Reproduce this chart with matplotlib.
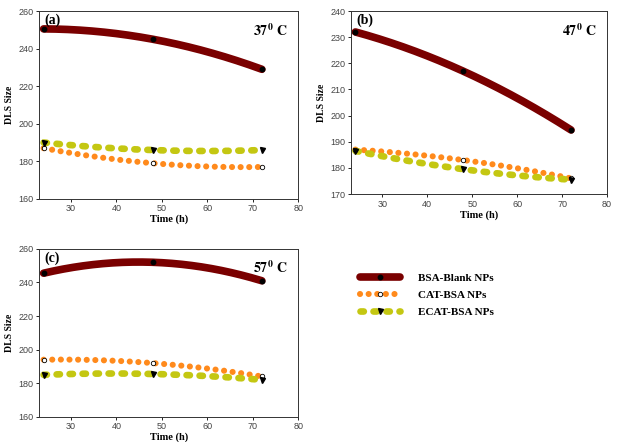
import numpy as np
import matplotlib
matplotlib.use("Agg")
import matplotlib.pyplot as plt
from matplotlib.lines import Line2D

plt.rcParams['mathtext.fontset'] = 'stix'

# --- data ---
time_h = [24, 48, 72]

bsa_a = [250.5, 245.0, 229.0]
cat_a = [187.0, 179.0, 177.0]
ecat_a = [190.0, 186.0, 186.0]

bsa_b = [232.0, 217.0, 194.5]
cat_b = [187.0, 183.0, 176.0]
ecat_b = [186.5, 179.5, 175.5]

bsa_c = [245.5, 252.0, 241.0]
cat_c = [194.0, 192.0, 184.0]
ecat_c = [185.0, 185.5, 182.0]

panel_labels = ['(a)', '(b)', '(c)']
temps = ['37', '47', '57']
series_names = ['BSA-Blank NPs', 'CAT-BSA NPs', 'ECAT-BSA NPs']

# --- styles ---
RED = '#7a0000'
ORANGE = '#ff8a1c'
YGREEN = '#c4c712'
SERIF = 'Liberation Serif'
SANS = 'Liberation Sans'

styles = [
    dict(color=RED, lw=5.5, ls='-', solid_capstyle='round'),
    dict(color=ORANGE, lw=4.4, ls=(0, (0.01, 1.4)), dash_capstyle='round'),
    dict(color=YGREEN, lw=4.8, ls=(0, (0.5, 1.45)), dash_capstyle='round'),
]
markers = [
    dict(marker='o', ms=3.2, mfc='black', mec='black'),
    dict(marker='o', ms=3.2, mfc='white', mec='black', mew=0.6),
    dict(marker='v', ms=3.6, mfc='black', mec='black'),
]

fig = plt.figure(figsize=(6.2, 4.42), dpi=100)
ax_a = fig.add_axes([0.063, 0.550, 0.418, 0.425])
ax_b = fig.add_axes([0.566, 0.561, 0.413, 0.414])
ax_c = fig.add_axes([0.063, 0.057, 0.418, 0.380])

panels = [
    (ax_a, [bsa_a, cat_a, ecat_a], (160, 260), 20),
    (ax_b, [bsa_b, cat_b, ecat_b], (170, 240), 10),
    (ax_c, [bsa_c, cat_c, ecat_c], (160, 260), 20),
]

xs = np.linspace(time_h[0], time_h[-1], 200)
for i, (ax, data, ylim, ystep) in enumerate(panels):
    for vals, st, mk in zip(data, styles, markers):
        coef = np.polyfit(time_h, vals, 2)
        ax.plot(xs, np.polyval(coef, xs), zorder=2, **st)
        ax.plot(time_h, vals, ls='none', zorder=3, **mk)
    ax.set_xlim(23, 80)
    ax.set_ylim(*ylim)
    ax.set_xticks([30, 40, 50, 60, 70, 80])
    ax.set_yticks(np.arange(ylim[0], ylim[1] + 1, ystep))
    ax.tick_params(labelsize=6.5, labelcolor='#444444', length=2, width=0.6,
                   pad=2)
    for lab in ax.get_xticklabels() + ax.get_yticklabels():
        lab.set_family(SANS)
    for sp in ax.spines.values():
        sp.set_linewidth(0.7)
        sp.set_color('#333333')
    ax.set_xlabel('Time (h)', family=SERIF, weight='bold', fontsize=7.5,
                  labelpad=1)
    ax.set_ylabel('DLS Size', family=SERIF, weight='bold', fontsize=7,
                  labelpad=3)
    ax.text(0.02, 0.985, panel_labels[i], transform=ax.transAxes,
            family=SERIF, weight='bold', fontsize=10, va='top', ha='left')
    ax.text(0.96, 0.94, r'$\mathbf{%s^{0}\ C}$' % temps[i],
            transform=ax.transAxes, fontsize=10, va='top', ha='right')

handles = [Line2D([], [], **st, **mk) for st, mk in zip(styles, markers)]
leg = fig.legend(handles, series_names, loc='upper left',
                 bbox_to_anchor=(0.565, 0.405), frameon=False,
                 handlelength=3.6, handletextpad=1.6, labelspacing=0.65,
                 numpoints=1, prop=dict(family=SERIF, weight='bold', size=8))

fig.savefig('out.png', dpi=100)
